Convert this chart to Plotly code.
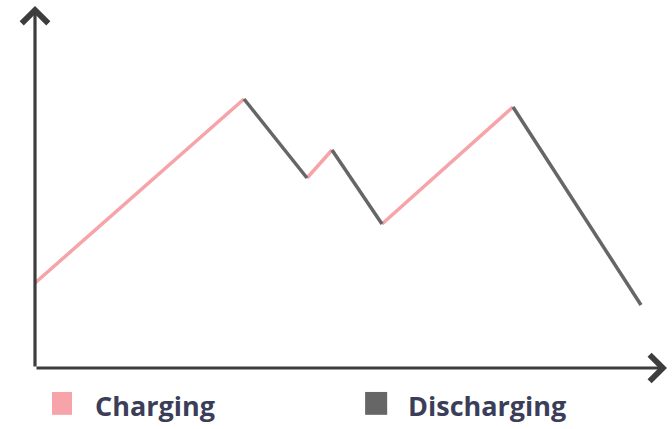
import plotly.graph_objects as go

# Battery level over time (arbitrary units)
time = [0, 209, 272, 297, 347, 478, 606]
level = [85, 269, 190, 218, 144, 261, 63]
series_names = ["Charging", "Discharging"]
series_colors = ["#f6a3a9", "#666666"]

# split into charging (rising) and discharging (falling) segments
seg = {"Charging": ([], []), "Discharging": ([], [])}
for i in range(len(time) - 1):
    name = "Charging" if level[i + 1] > level[i] else "Discharging"
    xs, ys = seg[name]
    xs += [time[i], time[i + 1], None]
    ys += [level[i], level[i + 1], None]

fig = go.Figure()
for name, color in zip(series_names, series_colors):
    xs, ys = seg[name]
    fig.add_trace(go.Scatter(x=xs, y=ys, mode="lines", name=name,
                             line=dict(color=color, width=3.5),
                             showlegend=False, hoverinfo="skip", cliponaxis=False))

axis_color = "#3d3d3d"
# axes with open arrowheads
fig.add_annotation(x=632, y=0, ax=0, ay=0, xref="x", yref="y", axref="x", ayref="y",
                   showarrow=True, arrowhead=4, arrowsize=1.6, arrowwidth=3.2,
                   arrowcolor=axis_color, text="")
fig.add_annotation(x=0, y=362, ax=0, ay=0, xref="x", yref="y", axref="x", ayref="y",
                   showarrow=True, arrowhead=4, arrowsize=1.6, arrowwidth=3.2,
                   arrowcolor=axis_color, text="")

# custom legend (squares + labels) below the axis
legend_sq = [(0.027, 0.0587), (0.524, 0.559)]
legend_tx = [0.092, 0.589]
for (x0, x1), tx, name, color in zip(legend_sq, legend_tx, series_names, series_colors):
    fig.add_shape(type="rect", xref="paper", yref="paper", x0=x0, x1=x1,
                  y0=-0.066, y1=-0.129, fillcolor=color, line=dict(width=0))
    fig.add_annotation(x=tx, y=-0.103, xref="paper", yref="paper", xanchor="left",
                       yanchor="middle", showarrow=False, text=name,
                       font=dict(family="Open Sans", size=27, color="#3b3e58", weight="bold"))

fig.update_layout(
    width=672, height=429,
    margin=dict(l=35, r=7, t=5, b=61, autoexpand=False),
    paper_bgcolor="white", plot_bgcolor="white",
    showlegend=False,
    xaxis=dict(range=[0, 630], visible=False),
    yaxis=dict(range=[0, 363], visible=False),
)

fig.write_html("out.html", config={"displayModeBar": False},
               post_script="document.body.style.margin='0px';")
